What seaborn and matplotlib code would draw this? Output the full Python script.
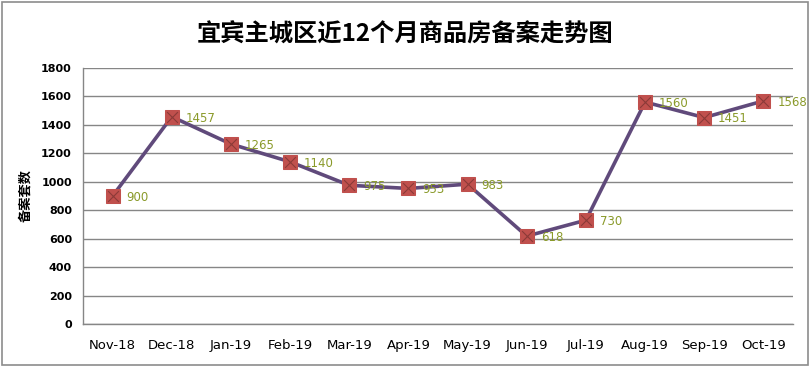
import matplotlib
matplotlib.use("Agg")
import matplotlib.pyplot as plt
import seaborn as sns
import pandas as pd
from matplotlib.patches import Rectangle

months = ["Nov-18", "Dec-18", "Jan-19", "Feb-19", "Mar-19", "Apr-19",
          "May-19", "Jun-19", "Jul-19", "Aug-19", "Sep-19", "Oct-19"]
counts = [900, 1457, 1265, 1140, 975, 953, 983, 618, 730, 1560, 1451, 1568]
y_ticks = [0, 200, 400, 600, 800, 1000, 1200, 1400, 1600, 1800]

df = pd.DataFrame({"month": months, "count": counts})
df["pos"] = range(len(months))

sns.set_style("white", {"text.color": "black", "xtick.color": "black",
                        "ytick.color": "black", "axes.labelcolor": "black"})
plt.rcParams["font.family"] = ["Noto Sans CJK SC", "DejaVu Sans"]
latin = ["DejaVu Sans"]

fig = plt.figure(figsize=(8.1, 3.67), dpi=100)
ax = fig.add_axes([0.1025, 0.117, 0.8765, 0.698])

# gray frame around the whole chart
fig.patches.append(Rectangle((0.002, 0.005), 0.995, 0.99, transform=fig.transFigure,
                             fill=False, edgecolor="#8c8c8c", linewidth=1.2))

sns.lineplot(data=df, x="pos", y="count", ax=ax, color="#604A7B", linewidth=2.6,
             marker="s", markersize=10, markerfacecolor="#C0504D",
             markeredgecolor="#C0504D", zorder=3)
sns.scatterplot(data=df, x="pos", y="count", ax=ax, marker="x", s=60,
                color="#8B3A38", linewidth=0.8, zorder=4)

for x, y in zip(df["pos"], df["count"]):
    ax.annotate(str(y), (x, y), xytext=(10, -1), textcoords="offset points",
                va="center", ha="left", fontsize=8.5, color="#8A9A2A",
                family=latin)

ax.set_xlim(-0.5, len(months) - 0.5)
ax.set_ylim(0, 1800)
ax.set_yticks(y_ticks)
ax.set_yticklabels([str(v) for v in y_ticks], fontsize=8, fontweight="bold",
                   family=latin, color="black")
ax.set_xticks(df["pos"])
ax.set_xticklabels(months, fontsize=9.5, family=latin, color="black")
ax.tick_params(axis="both", length=0, pad=8)
ax.tick_params(axis="x", pad=11)

ax.grid(axis="y", color="#868686", linewidth=1)
ax.set_axisbelow(True)
for side in ["top", "right"]:
    ax.spines[side].set_visible(False)
for side in ["left", "bottom"]:
    ax.spines[side].set_color("#868686")
    ax.spines[side].set_linewidth(1)

ax.set_xlabel("")
ax.set_ylabel("备案套数", fontsize=9.5, fontweight="bold", color="black")
ax.yaxis.set_label_coords(-0.072, 0.5)

fig.text(0.5, 0.905, "宜宾主城区近12个月商品房备案走势图", ha="center", va="center",
         fontsize=17.5, fontweight="heavy", color="black")

fig.savefig("out.png", dpi=100)
plt.close(fig)
